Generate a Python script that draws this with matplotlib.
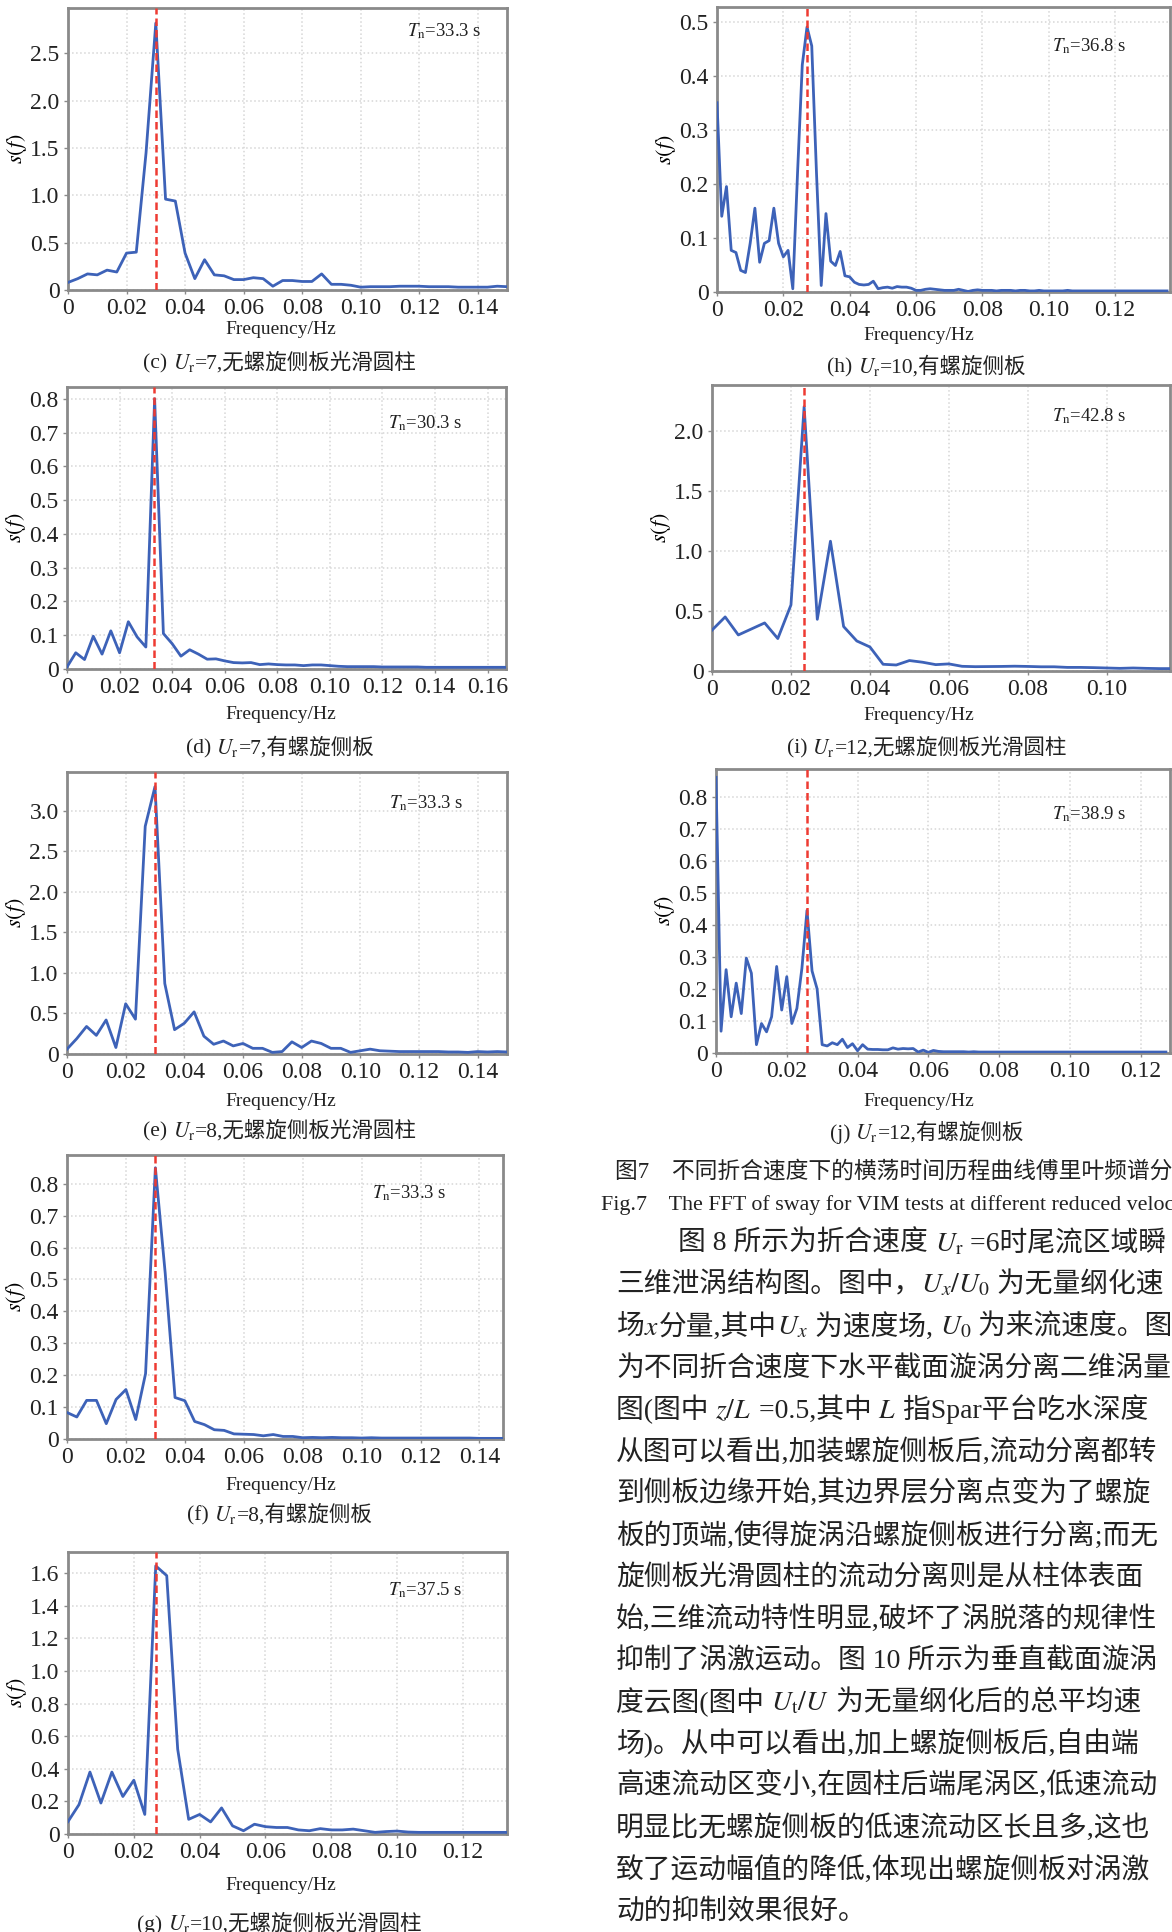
import numpy as np
import matplotlib
matplotlib.use("Agg")
import matplotlib.pyplot as plt
from matplotlib.ticker import FuncFormatter, MultipleLocator

plt.rcParams["font.family"] = ["Liberation Serif", "Noto Sans CJK SC"]
plt.rcParams["mathtext.fontset"] = "stix"

# FFT bins of the sway records (Hz per bin)
df_coarse = 1 / 300
df_fine = 1 / 700

# natural periods T_n (s) for each case
tn = {"c": 33.3, "d": 30.3, "e": 33.3, "f": 33.3, "g": 37.5,
      "h": 36.8, "i": 42.8, "j": 38.9}

# spectral amplitudes s(f)
s_c = [0.08, 0.12, 0.17, 0.16, 0.21, 0.19, 0.39, 0.40, 1.45, 2.82,
       0.96, 0.94, 0.39, 0.12, 0.32, 0.16, 0.15, 0.11, 0.11, 0.13,
       0.12, 0.04, 0.10, 0.10, 0.09, 0.09, 0.17, 0.06, 0.06, 0.05,
       0.03, 0.035, 0.035, 0.035, 0.04, 0.04, 0.04, 0.035, 0.035, 0.035,
       0.03, 0.03, 0.03, 0.03, 0.04, 0.035]
s_d = [0.006, 0.048, 0.028, 0.097, 0.044, 0.113, 0.048, 0.14, 0.095, 0.065,
       0.80, 0.105, 0.075, 0.038, 0.057, 0.044, 0.029, 0.03, 0.024, 0.019,
       0.018, 0.019, 0.013, 0.015, 0.013, 0.012, 0.012, 0.010, 0.012, 0.012,
       0.010, 0.008, 0.007, 0.007, 0.007, 0.007, 0.006, 0.006, 0.006, 0.006,
       0.006, 0.005, 0.005, 0.005, 0.005, 0.005, 0.005, 0.005, 0.005, 0.005,
       0.005]
s_e = [0.06, 0.19, 0.34, 0.23, 0.42, 0.08, 0.62, 0.43, 2.81, 3.30,
       0.87, 0.30, 0.38, 0.52, 0.22, 0.12, 0.16, 0.10, 0.13, 0.07,
       0.07, 0.02, 0.03, 0.15, 0.08, 0.16, 0.13, 0.07, 0.07, 0.02,
       0.04, 0.06, 0.04, 0.035, 0.03, 0.03, 0.03, 0.03, 0.03, 0.025,
       0.025, 0.02, 0.03, 0.025, 0.03, 0.025]
s_f = [0.083, 0.069, 0.121, 0.121, 0.048, 0.124, 0.155, 0.061, 0.205, 0.85,
       0.52, 0.13, 0.12, 0.055, 0.045, 0.029, 0.027, 0.016, 0.015, 0.014,
       0.010, 0.014, 0.008, 0.008, 0.004, 0.005, 0.004, 0.005, 0.004, 0.004,
       0.003, 0.004, 0.003, 0.003, 0.003, 0.003, 0.003, 0.003, 0.003, 0.003,
       0.003, 0.003, 0.002, 0.002, 0.002, 0.002]
s_g = [0.076, 0.18, 0.38, 0.19, 0.38, 0.23, 0.33, 0.12, 1.645, 1.585,
       0.52, 0.09, 0.12, 0.074, 0.16, 0.05, 0.02, 0.06, 0.045, 0.04,
       0.04, 0.025, 0.02, 0.033, 0.025, 0.025, 0.03, 0.02, 0.01, 0.015,
       0.018, 0.012, 0.01, 0.01, 0.01, 0.01, 0.01, 0.01, 0.01, 0.01,
       0.01]
s_h = [0.35, 0.14, 0.195, 0.077, 0.073, 0.04, 0.036, 0.09, 0.155, 0.055,
       0.09, 0.095, 0.155, 0.09, 0.065, 0.077, 0.006, 0.22, 0.42, 0.49,
       0.455, 0.22, 0.012, 0.145, 0.057, 0.049, 0.075, 0.03, 0.028, 0.018,
       0.014, 0.013, 0.014, 0.02, 0.006, 0.008, 0.009, 0.007, 0.010, 0.009,
       0.009, 0.007, 0.003, 0.003, 0.005, 0.006, 0.005, 0.004, 0.003, 0.003,
       0.003, 0.005, 0.003, 0.001, 0.003, 0.004, 0.003, 0.003, 0.003, 0.002,
       0.003, 0.003, 0.003, 0.002, 0.003, 0.003, 0.002, 0.002, 0.003, 0.002,
       0.002, 0.002, 0.002, 0.002, 0.003, 0.002, 0.002, 0.002, 0.002, 0.002,
       0.002, 0.002, 0.002, 0.002, 0.002, 0.002, 0.002, 0.002, 0.002, 0.002,
       0.002, 0.002, 0.002, 0.002, 0.002, 0.002]
s_i = [0.34, 0.45, 0.30, 0.35, 0.40, 0.27, 0.55, 2.20, 0.43, 1.08,
       0.37, 0.25, 0.20, 0.056, 0.05, 0.087, 0.073, 0.053, 0.059, 0.039,
       0.036, 0.037, 0.038, 0.04, 0.038, 0.035, 0.035, 0.03, 0.03, 0.028,
       0.025, 0.022, 0.025, 0.022, 0.02, 0.02]
s_j = [0.86, 0.068, 0.26, 0.113, 0.218, 0.123, 0.296, 0.249, 0.026, 0.092,
       0.066, 0.113, 0.27, 0.134, 0.238, 0.092, 0.139, 0.265, 0.445, 0.256,
       0.20, 0.026, 0.022, 0.032, 0.026, 0.043, 0.017, 0.029, 0.007, 0.026,
       0.012, 0.011, 0.011, 0.010, 0.010, 0.016, 0.012, 0.014, 0.013, 0.014,
       0.003, 0.009, 0.002, 0.008, 0.005, 0.004, 0.004, 0.004, 0.004, 0.004,
       0.003, 0.004, 0.003, 0.003, 0.003, 0.003, 0.003, 0.003, 0.003, 0.003,
       0.003, 0.003, 0.003, 0.003, 0.003, 0.003, 0.003, 0.003, 0.003, 0.003,
       0.003, 0.003, 0.003, 0.003, 0.003, 0.003, 0.003, 0.003, 0.003, 0.003,
       0.003, 0.003, 0.003, 0.003, 0.003, 0.003, 0.003, 0.003, 0.003, 0.003]

# captions split into runs: mathtext pieces cannot fall back to the CJK font
captions = {
    "c": ["(c) ", r"$U_\mathrm{r}$", "=7,无螺旋侧板光滑圆柱"],
    "d": ["(d) ", r"$U_\mathrm{r}$", "=7,有螺旋侧板"],
    "e": ["(e) ", r"$U_\mathrm{r}$", "=8,无螺旋侧板光滑圆柱"],
    "f": ["(f) ", r"$U_\mathrm{r}$", "=8,有螺旋侧板"],
    "g": ["(g) ", r"$U_\mathrm{r}$", "=10,无螺旋侧板光滑圆柱"],
    "h": ["(h) ", r"$U_\mathrm{r}$", "=10,有螺旋侧板"],
    "i": ["(i) ", r"$U_\mathrm{r}$", "=12,无螺旋侧板光滑圆柱"],
    "j": ["(j) ", r"$U_\mathrm{r}$", "=12,有螺旋侧板"],
}

body_lines = [
    ["图 8 所示为折合速度 ", r"$U_\mathrm{r}$", " =6时尾流区域瞬"],
    ["三维泄涡结构图。图中，", r"$U_x/U_0$", " 为无量纲化速"],
    ["场", r"$x$", "分量,其中", r"$U_x$", " 为速度场, ", r"$U_0$", " 为来流速度。图"],
    ["为不同折合速度下水平截面漩涡分离二维涡量"],
    ["图(图中 ", r"$z/L$", " =0.5,其中 ", r"$L$", " 指Spar平台吃水深度"],
    ["从图可以看出,加装螺旋侧板后,流动分离都转"],
    ["到侧板边缘开始,其边界层分离点变为了螺旋"],
    ["板的顶端,使得旋涡沿螺旋侧板进行分离;而无"],
    ["旋侧板光滑圆柱的流动分离则是从柱体表面"],
    ["始,三维流动特性明显,破坏了涡脱落的规律性"],
    ["抑制了涡激运动。图 10 所示为垂直截面漩涡"],
    ["度云图(图中 ", r"$U_\mathrm{t}/U$", " 为无量纲化后的总平均速"],
    ["场)。从中可以看出,加上螺旋侧板后,自由端"],
    ["高速流动区变小,在圆柱后端尾涡区,低速流动"],
    ["明显比无螺旋侧板的低速流动区长且多,这也"],
    ["致了运动幅值的降低,体现出螺旋侧板对涡激"],
    ["动的抑制效果很好。"],
]

W, H = 1172, 1932
fig = plt.figure(figsize=(W / 100, H / 100), dpi=100)
renderer = fig.canvas.get_renderer()
ink = "#222222"


def put_runs(x_px, y_px, runs, size, ha="left"):
    """Write a line made of several text runs, y_px is the visual centre."""
    widths = []
    for r in runs:
        t = fig.text(0, 0, r, fontsize=size)
        widths.append(t.get_window_extent(renderer).width)
        t.remove()
    x = x_px - sum(widths) / 2 if ha == "center" else x_px
    base = y_px + 0.36 * size * 100 / 72
    for r, w in zip(runs, widths):
        fig.text(x / W, 1 - base / H, r, fontsize=size, ha="left",
                 va="baseline", color=ink)
        x += w


# panel layout in pixels: box (left, top, right, bottom), limits, tick steps, label rows
panels = [
    ("c", s_c, df_coarse, (68, 8, 507, 290), 0.15, 2.98, 0.5, (0.772, 0.918), 330, 361),
    ("d", s_d, df_coarse, (67, 387, 506, 669), 0.167, 0.835, 0.1, (0.731, 0.872), 715, 746),
    ("e", s_e, df_coarse, (67, 772, 507, 1054), 0.15, 3.48, 0.5, (0.731, 0.89), 1102, 1129),
    ("f", s_f, df_coarse, (67, 1155, 503, 1439), 0.148, 0.89, 0.1, (0.70, 0.866), 1485, 1513),
    ("g", s_g, df_coarse, (68, 1552, 507, 1834), 0.1334, 1.73, 0.2, (0.729, 0.865), 1886, 1922),
    ("h", s_h, df_fine, (717, 7, 1170, 292), 0.1366, 0.527, 0.1, (0.74, 0.864), 335, 365),
    ("i", s_i, df_coarse, (712, 385, 1170, 671), 0.116, 2.38, 0.5, (0.742, 0.89), 716, 746),
    ("j", s_j, df_fine, (716, 769, 1170, 1053), 0.1283, 0.886, 0.1, (0.74, 0.84), 1102, 1131),
]

xfmt = FuncFormatter(lambda v, p: "0" if abs(v) < 1e-9 else f"{v:.2f}")
yfmt = FuncFormatter(lambda v, p: "0" if abs(v) < 1e-9 else f"{v:.1f}")

for key, s, df, (l, t, r, b), xmax, ymax, ystep, tpos, xlab_y, cap_y in panels:
    ax = fig.add_axes([l / W, 1 - b / H, (r - l) / W, (b - t) / H])
    freq = np.arange(len(s)) * df
    ax.plot(freq, s, color="#3d62b8", lw=2.0, zorder=3)
    ax.axvline(1 / tn[key], color="#ee3b32", ls=(0, (3, 1.6)), lw=1.8, zorder=4)
    ax.set_xlim(0, xmax)
    ax.set_ylim(0, ymax)
    ax.xaxis.set_major_locator(MultipleLocator(0.02))
    ax.yaxis.set_major_locator(MultipleLocator(ystep))
    ax.xaxis.set_major_formatter(xfmt)
    ax.yaxis.set_major_formatter(yfmt)
    ax.grid(True, color="#d6d6d6", ls=":", lw=1.1)
    for sp in ax.spines.values():
        sp.set_color("#8a8a8a")
        sp.set_linewidth(2)
    ax.tick_params(labelsize=17, length=3, width=1, color="#8a8a8a",
                   labelcolor=ink, pad=3)
    ax.set_ylabel(r"$s(f)$", fontsize=16, labelpad=1)
    ax.text(tpos[0], tpos[1], r"$T_\mathrm{n}$=%.1f s" % tn[key], transform=ax.transAxes,
            fontsize=13.5, va="center", ha="left", color=ink)

    xc = 281 if l < 400 else 919
    fig.text(xc / W, 1 - xlab_y / H, "Frequency/Hz", fontsize=14,
             ha="center", va="center", color=ink)
    cc = 280 if l < 400 else 927
    put_runs(cc, cap_y, captions[key], 15.5, ha="center")

# figure caption
put_runs(615, 1169, ["图7　不同折合速度下的横荡时间历程曲线傅里叶频谱分"], 16.4)
put_runs(601, 1202, ["Fig.7    The FFT of sway for VIM tests at different reduced veloc"], 15.8)

# running text beside the figure
for n, line in enumerate(body_lines):
    x0 = 678 if n == 0 else 616
    put_runs(x0, 1241 + 41.8 * n, line, 20)

fig.savefig("out.png", dpi=100)
